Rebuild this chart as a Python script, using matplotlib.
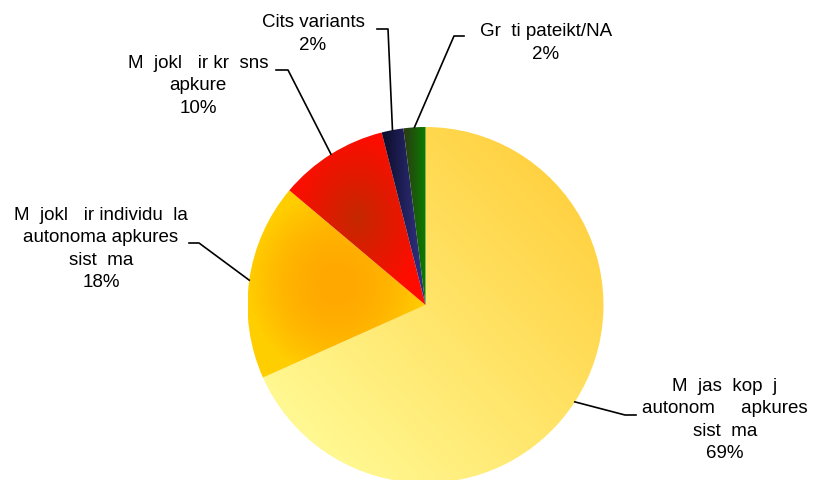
import numpy as np
import matplotlib.pyplot as plt

plt.rcParams['font.family'] = ['Liberation Sans', 'DejaVu Sans']

# data (Latvian letters with diacritics are missing in the source picture, shown as blanks)
labels = ['M  jas  kop  j\nautonom     apkures\nsist  ma',
          'M  jokl   ir individu  la\nautonoma apkures\nsist  ma',
          'M  jokl   ir kr  sns\napkure',
          'Cits variants',
          'Gr  ti pateikt/NA']
shares = [69, 18, 10, 2, 2]

# layout in pixel coords (y from top): label centres and leader elbows
label_xy = [(725, 420), (101, 249), (198, 86), (313, 34), (546, 43)]
elbow_xy = [(625, 415), (199, 243), (288, 70), (388, 29), (454, 36)]
tail_dx = [11, -10, -12, -11, 10]

# gradient styles: kind, outer/start colour, inner/end colour, falloff power
grads = [('diag', (255, 255, 160), (255, 202, 50), 1),
         ('center', (255, 206, 0), (255, 168, 0), 2),
         ('center', (255, 12, 0), (196, 40, 0), 1),
         ('horiz', (12, 12, 40), (52, 52, 140), 1),
         ('horiz', (45, 55, 20), (10, 125, 0), 1)]

W, H = 813, 480
cx, cy, R = 425.5, 480 - 305, 178

fig = plt.figure(figsize=(W / 100, H / 100), dpi=100)
ax = fig.add_axes([0, 0, 1, 1])

wedges, _ = ax.pie(shares, startangle=90, counterclock=False, radius=R,
                   center=(cx, cy), wedgeprops=dict(linewidth=0))


def make_grad(kind, c0, c1, p, nx=300, ny=300):
    X, Y = np.meshgrid(np.linspace(0, 1, nx), np.linspace(0, 1, ny))
    if kind == 'diag':
        t = (X + Y) / 2
    elif kind == 'center':
        r = np.clip(np.sqrt(((X - .5) / .5) ** 2 + ((Y - .5) / .5) ** 2), 0, 1)
        t = 1 - r ** p
    else:
        t = X
    c0 = np.array(c0) / 255
    c1 = np.array(c1) / 255
    return c0 + (c1 - c0) * t[..., None]


for w, (kind, c0, c1, p) in zip(wedges, grads):
    ang = np.radians(np.linspace(w.theta1, w.theta2, 100))
    px = np.r_[cx, cx + R * np.cos(ang)]
    py = np.r_[cy, cy + R * np.sin(ang)]
    x0, x1, y0, y1 = px.min(), px.max(), py.min(), py.max()
    w.set_facecolor('none')
    im = ax.imshow(make_grad(kind, c0, c1, p), extent=[x0, x1, y0, y1], origin='lower',
                   aspect='auto', interpolation='bilinear', zorder=1)
    im.set_clip_path(w)

for w, lab, s, (lx, ly), (ex, ey), dx in zip(wedges, labels, shares, label_xy, elbow_xy, tail_dx):
    mid = np.radians((w.theta1 + w.theta2) / 2)
    sx, sy = cx + R * np.cos(mid), cy + R * np.sin(mid)
    ax.plot([sx, ex, ex + dx], [sy, H - ey, H - ey], color='black', lw=1.2, zorder=3)
    ax.text(lx, H - ly, f'{lab}\n{s}%', ha='center', va='center', multialignment='center',
            fontsize=13.5, color='black', linespacing=1.4, zorder=4)

ax.set_xlim(0, W)
ax.set_ylim(0, H)
ax.set_aspect('equal')
ax.axis('off')
fig.savefig('out.png', dpi=100)
